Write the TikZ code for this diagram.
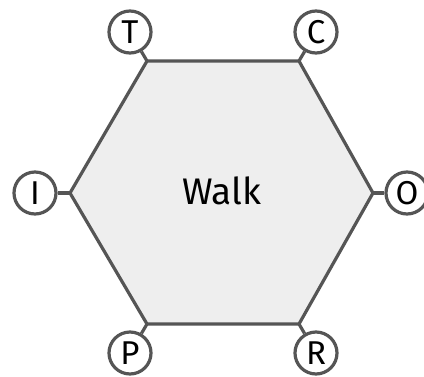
\documentclass[tikz,border=0pt]{standalone}
\usepackage{fontspec}
\setmainfont{Fira Sans}
\definecolor{linegray}{HTML}{555555}
\definecolor{hexfill}{HTML}{EEEEEE}
\begin{document}
\begin{tikzpicture}[x=1pt,y=-1pt,
  hexside/.style={draw=linegray,fill=hexfill,line width=3.2pt,line join=round},
  edge/.style={draw=linegray,line width=3.2pt},
  port/.style={circle,draw=linegray,line width=3.2pt,fill=white,minimum size=42pt,inner sep=0pt,font=\fontsize{33}{33}\selectfont},
  title/.style={font=\fontsize{37}{37}\selectfont}]
\useasboundingbox (0,0) rectangle (424,376);
\coordinate (tl) at (147,61);
\coordinate (tr) at (299,61);
\coordinate (r) at (373,193);
\coordinate (br) at (299,324);
\coordinate (bl) at (147,324);
\coordinate (l) at (70,193);
\draw[hexside] (tl) -- (tr) -- (r) -- (br) -- (bl) -- (l) -- cycle;
\node[title] (walk) at (222,191) {Walk};
\node[port] (T) at (130,32) {T};
\node[port] (C) at (316,32) {C};
\node[port] (I) at (35,193) {I};
\node[port] (O) at (407,193) {O};
\node[port] (P) at (130,353) {P};
\node[port] (R) at (316,353) {R};
\draw[edge] (tl) -- (T);
\draw[edge] (tr) -- (C);
\draw[edge] (l) -- (I);
\draw[edge] (r) -- (O);
\draw[edge] (bl) -- (P);
\draw[edge] (br) -- (R);
\end{tikzpicture}
\end{document}
